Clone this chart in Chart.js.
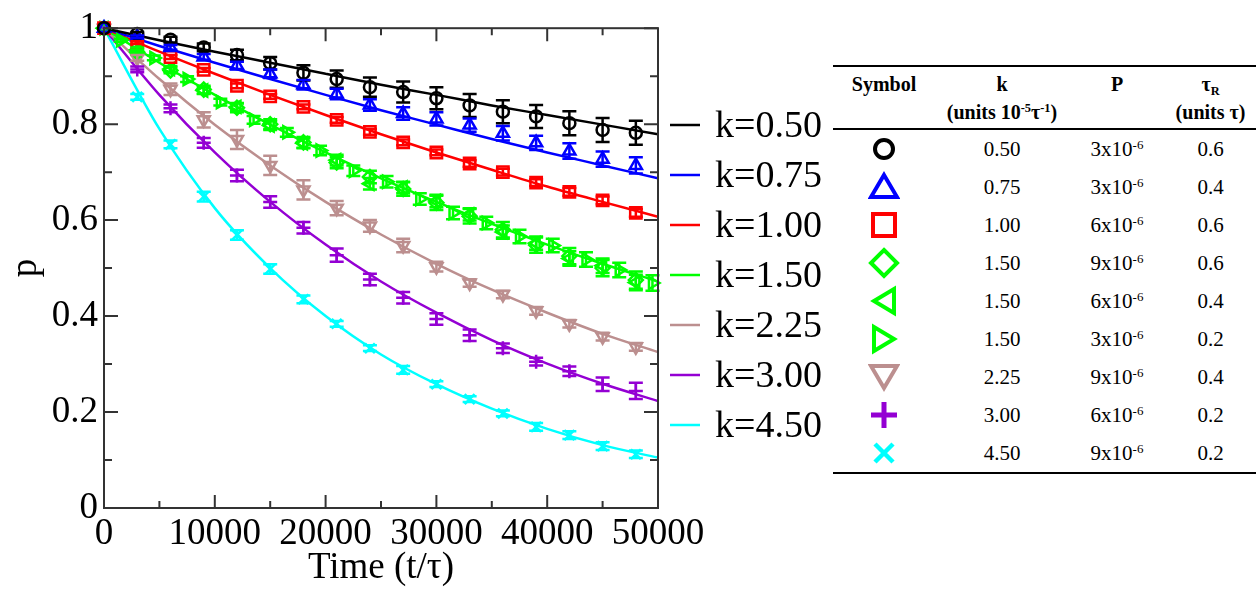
<!DOCTYPE html>
<html>
<head>
<meta charset="utf-8">
<script src="https://cdn.jsdelivr.net/npm/chart.js@4.4.1/dist/chart.umd.min.js"></script>
<style>
  html, body { margin: 0; padding: 0; background: #fff; }
  body { width: 1256px; height: 590px; position: relative; overflow: hidden;
         font-family: "Liberation Serif", "Times New Roman", serif; color: #000; }
  #plot { position: absolute; left: 0; top: 0; }
  #params { position: absolute; left: 833px; top: 65px; width: 423px;
            border-collapse: collapse; table-layout: fixed; }
  #params thead tr { border-top: 2px solid #000; border-bottom: 2px solid #000; }
  #params tbody tr:last-child { border-bottom: 2px solid #000; }
  #params th { font-weight: bold; font-size: 20px; line-height: 28px; height: 58px;
               padding: 3px 0 0 0; vertical-align: top; text-align: center; }
  #params td { font-size: 21px; height: 38px; padding: 0; text-align: center; vertical-align: middle; }
  sup { font-size: 0.62em; vertical-align: 0.55em; line-height: 0; }
  sub { font-size: 0.62em; vertical-align: -0.3em; line-height: 0; }
  td svg { display: block; margin: 0 auto; }
</style>
</head>
<body>
<canvas id="plot" width="830" height="590"></canvas>
<table id="params">
  <colgroup><col style="width:102px"><col style="width:134px"><col style="width:96px"><col style="width:91px"></colgroup>
  <thead>
    <tr>
      <th>Symbol</th>
      <th>k<br>(units 10<sup>-5</sup>τ<sup>-1</sup>)</th>
      <th>P</th>
      <th>τ<sub>R</sub><br>(units τ)</th>
    </tr>
  </thead>
  <tbody id="paramRows"></tbody>
</table>
<script>
// sample times
const markerTimes = [0, 3000, 6000, 9000, 12000, 15000, 18000, 21000, 24000,
                     27000, 30000, 33000, 36000, 39000, 42000, 45000, 48000];
const shiftedTimes = [0, 1500, 4500, 7500, 10500, 13500, 16500, 19500, 22500,
                      25500, 28500, 31500, 34500, 37500, 40500, 43500, 46500, 49500];
const fitTimes = [0, 5000, 10000, 15000, 20000, 25000, 30000, 35000, 40000, 45000, 50000];

// fitted curves, one per k
const fitK050 = [1, 0.975, 0.951, 0.928, 0.905, 0.882, 0.861, 0.839, 0.819, 0.799, 0.779];
const fitK075 = [1, 0.963, 0.928, 0.894, 0.861, 0.829, 0.799, 0.769, 0.741, 0.714, 0.687];
const fitK100 = [1, 0.951, 0.905, 0.861, 0.819, 0.779, 0.741, 0.705, 0.670, 0.638, 0.607];
const fitK150 = [1, 0.928, 0.861, 0.799, 0.741, 0.687, 0.638, 0.592, 0.549, 0.509, 0.472];
const fitK225 = [1, 0.894, 0.799, 0.714, 0.638, 0.570, 0.509, 0.455, 0.407, 0.363, 0.325];
const fitK300 = [1, 0.861, 0.741, 0.638, 0.549, 0.472, 0.407, 0.350, 0.301, 0.259, 0.223];
const fitK450 = [1, 0.790, 0.625, 0.500, 0.400, 0.320, 0.258, 0.207, 0.165, 0.131, 0.105];

// simulation points and their error bars
const pCircle   = [1, 0.988, 0.976, 0.960, 0.944, 0.927, 0.907, 0.894, 0.877, 0.867, 0.854, 0.839, 0.826, 0.816, 0.802, 0.788, 0.782];
const errCircle = [0, 0.004, 0.006, 0.008, 0.011, 0.013, 0.016, 0.018, 0.020, 0.022, 0.023, 0.024, 0.024, 0.024, 0.025, 0.025, 0.025];
const pTriUp    = [1, 0.982, 0.960, 0.940, 0.922, 0.905, 0.882, 0.863, 0.840, 0.822, 0.811, 0.798, 0.781, 0.761, 0.744, 0.727, 0.714];
const errTriUp  = [0, 0.003, 0.005, 0.006, 0.008, 0.009, 0.010, 0.011, 0.012, 0.013, 0.014, 0.014, 0.015, 0.015, 0.016, 0.016, 0.017];
const pSquare   = [1, 0.970, 0.940, 0.913, 0.880, 0.858, 0.836, 0.809, 0.784, 0.762, 0.741, 0.718, 0.700, 0.678, 0.659, 0.641, 0.615];
const errSquare = [0, 0.003, 0.004, 0.004, 0.005, 0.005, 0.005, 0.006, 0.006, 0.006, 0.006, 0.007, 0.007, 0.007, 0.008, 0.008, 0.008];
const pDiamond  = [1, 0.950, 0.912, 0.872, 0.834, 0.800, 0.762, 0.720, 0.690, 0.665, 0.636, 0.608, 0.580, 0.548, 0.525, 0.500, 0.475];
const errDiamond= [0, 0.005, 0.006, 0.008, 0.009, 0.010, 0.011, 0.012, 0.013, 0.014, 0.015, 0.015, 0.016, 0.016, 0.017, 0.017, 0.018];
const pTriLeft  = [1, 0.955, 0.915, 0.870, 0.836, 0.797, 0.760, 0.725, 0.676, 0.668, 0.640, 0.612, 0.575, 0.552, 0.520, 0.505, 0.470];
const errTriLeft= [0, 0.005, 0.006, 0.007, 0.008, 0.009, 0.010, 0.011, 0.012, 0.012, 0.013, 0.013, 0.014, 0.014, 0.015, 0.015, 0.016];
const pTriRight = [1, 0.975, 0.938, 0.894, 0.846, 0.809, 0.783, 0.745, 0.703, 0.680, 0.644, 0.615, 0.594, 0.566, 0.547, 0.518, 0.496, 0.469];
const errTriRight=[0, 0.003, 0.005, 0.006, 0.007, 0.008, 0.009, 0.010, 0.011, 0.012, 0.012, 0.013, 0.013, 0.014, 0.014, 0.015, 0.015, 0.016];
const pTriDown  = [1, 0.938, 0.873, 0.809, 0.768, 0.714, 0.663, 0.625, 0.588, 0.547, 0.503, 0.469, 0.445, 0.411, 0.384, 0.357, 0.336];
const errTriDown= [0, 0.006, 0.012, 0.016, 0.020, 0.020, 0.020, 0.015, 0.012, 0.014, 0.010, 0.008, 0.008, 0.008, 0.008, 0.008, 0.008];
const pPlus     = [1, 0.914, 0.833, 0.761, 0.693, 0.638, 0.584, 0.527, 0.476, 0.438, 0.394, 0.360, 0.333, 0.305, 0.285, 0.258, 0.244];
const errPlus   = [0, 0.006, 0.008, 0.010, 0.012, 0.012, 0.012, 0.014, 0.012, 0.012, 0.012, 0.012, 0.010, 0.008, 0.010, 0.014, 0.017];
const pCross    = [1, 0.857, 0.758, 0.649, 0.569, 0.498, 0.435, 0.384, 0.333, 0.288, 0.258, 0.227, 0.197, 0.169, 0.152, 0.129, 0.112];
const errCross  = [0, 0.006, 0.008, 0.010, 0.010, 0.010, 0.008, 0.006, 0.006, 0.008, 0.006, 0.006, 0.006, 0.008, 0.008, 0.008, 0.008];

// table on the right
const tableK = ['0.50', '0.75', '1.00', '1.50', '1.50', '1.50', '2.25', '3.00', '4.50'];
const tableP = [3, 3, 6, 9, 6, 3, 9, 6, 9];
const tableTauR = ['0.6', '0.4', '0.6', '0.6', '0.4', '0.2', '0.4', '0.2', '0.2'];

const BLACK = '#000000', BLUE = '#0000ff', RED = '#ff0000', GREEN = '#00ff00',
      BROWN = '#bc8f8f', VIOLET = '#9400d3', CYAN = '#00ffff';
const SERIF = '"Liberation Serif", "Times New Roman", serif';

const fitSeries = [
  { label: 'k=0.50', values: fitK050, color: BLACK },
  { label: 'k=0.75', values: fitK075, color: BLUE },
  { label: 'k=1.00', values: fitK100, color: RED },
  { label: 'k=1.50', values: fitK150, color: GREEN },
  { label: 'k=2.25', values: fitK225, color: BROWN },
  { label: 'k=3.00', values: fitK300, color: VIOLET },
  { label: 'k=4.50', values: fitK450, color: CYAN }
];

const markerSeries = [
  { times: markerTimes, values: pCircle, errors: errCircle, color: BLACK, shape: 'circle', rot: 0, r: 6, sym: 'circle' },
  { times: markerTimes, values: pTriUp, errors: errTriUp, color: BLUE, shape: 'triangle', rot: 0, r: 7, sym: 'up' },
  { times: markerTimes, values: pSquare, errors: errSquare, color: RED, shape: 'rect', rot: 0, r: 8, sym: 'square' },
  { times: markerTimes, values: pDiamond, errors: errDiamond, color: GREEN, shape: 'rectRot', rot: 0, r: 7, sym: 'diamond' },
  { times: markerTimes, values: pTriLeft, errors: errTriLeft, color: GREEN, shape: 'triangle', rot: -90, r: 7, sym: 'left' },
  { times: shiftedTimes, values: pTriRight, errors: errTriRight, color: GREEN, shape: 'triangle', rot: 90, r: 7, sym: 'right' },
  { times: markerTimes, values: pTriDown, errors: errTriDown, color: BROWN, shape: 'triangle', rot: 180, r: 7, sym: 'down' },
  { times: markerTimes, values: pPlus, errors: errPlus, color: VIOLET, shape: 'cross', rot: 0, r: 7, sym: 'plus' },
  { times: markerTimes, values: pCross, errors: errCross, color: CYAN, shape: 'crossRot', rot: 0, r: 7, sym: 'x' }
];

const datasets = [];
markerSeries.forEach(s => {
  datasets.push({
    data: s.times.map((t, i) => ({ x: t, y: s.values[i] })),
    errors: s.errors,
    showLine: false,
    pointStyle: s.shape,
    rotation: s.rot,
    pointRadius: s.r,
    pointBorderWidth: 2.5,
    borderColor: s.color,
    backgroundColor: 'rgba(0,0,0,0)',
    clip: false,
    order: 0
  });
});
fitSeries.forEach(s => {
  datasets.push({
    label: s.label,
    data: fitTimes.map((t, i) => ({ x: t, y: s.values[i] })),
    showLine: true,
    pointRadius: 0,
    borderWidth: 2.5,
    borderColor: s.color,
    backgroundColor: s.color,
    cubicInterpolationMode: 'monotone',
    order: 1
  });
});

// vertical error bars with caps
const errorBars = {
  id: 'errorBars',
  afterDatasetsDraw(chart) {
    const ctx = chart.ctx;
    const yScale = chart.scales.y;
    ctx.save();
    ctx.lineWidth = 2.5;
    chart.data.datasets.forEach((ds, di) => {
      if (!ds.errors) return;
      const meta = chart.getDatasetMeta(di);
      ctx.strokeStyle = ds.borderColor;
      meta.data.forEach((pt, i) => {
        const e = ds.errors[i];
        if (!e) return;
        const v = ds.data[i].y;
        const yTop = yScale.getPixelForValue(v + e);
        const yBot = yScale.getPixelForValue(v - e);
        ctx.beginPath();
        ctx.moveTo(pt.x, yTop); ctx.lineTo(pt.x, yBot);
        ctx.moveTo(pt.x - 7, yTop); ctx.lineTo(pt.x + 7, yTop);
        ctx.moveTo(pt.x - 7, yBot); ctx.lineTo(pt.x + 7, yBot);
        ctx.stroke();
      });
    });
    ctx.restore();
  }
};

// box frame with inward major/minor ticks on all four sides
const frameTicks = {
  id: 'frameTicks',
  afterDatasetsDraw(chart) {
    const { ctx, chartArea: a } = chart;
    const xs = chart.scales.x, ys = chart.scales.y;
    ctx.save();
    ctx.strokeStyle = '#333';
    ctx.lineWidth = 2;
    ctx.strokeRect(a.left, a.top, a.right - a.left, a.bottom - a.top);
    ctx.beginPath();
    const withMinor = vals => {
      const out = [];
      vals.forEach((v, i) => {
        out.push([v, true]);
        if (i < vals.length - 1) out.push([(v + vals[i + 1]) / 2, false]);
      });
      return out;
    };
    withMinor(xs.ticks.map(t => t.value)).forEach(([v, major]) => {
      const px = xs.getPixelForValue(v), len = major ? 13 : 7;
      ctx.moveTo(px, a.bottom); ctx.lineTo(px, a.bottom - len);
      ctx.moveTo(px, a.top); ctx.lineTo(px, a.top + len);
    });
    withMinor(ys.ticks.map(t => t.value)).forEach(([v, major]) => {
      const py = ys.getPixelForValue(v), len = major ? 14 : 8;
      ctx.moveTo(a.left, py); ctx.lineTo(a.left + len, py);
      ctx.moveTo(a.right, py); ctx.lineTo(a.right - len, py);
    });
    ctx.stroke();
    ctx.restore();
  }
};

// legend to the right of the plot box
const sideLegend = {
  id: 'sideLegend',
  afterDraw(chart) {
    const { ctx, chartArea: a } = chart;
    const lines = chart.data.datasets.filter(ds => ds.showLine);
    ctx.save();
    ctx.font = '38px ' + SERIF;
    ctx.textBaseline = 'middle';
    ctx.textAlign = 'left';
    lines.forEach((ds, i) => {
      const y = 125 + i * 50;
      ctx.strokeStyle = ds.borderColor;
      ctx.lineWidth = 2.5;
      ctx.beginPath();
      ctx.moveTo(a.right + 12, y); ctx.lineTo(a.right + 42, y);
      ctx.stroke();
      ctx.fillStyle = '#000';
      ctx.fillText(ds.label, a.right + 57, y + 2);
    });
    ctx.restore();
  }
};

new Chart(document.getElementById('plot'), {
  type: 'scatter',
  data: { datasets },
  options: {
    responsive: false,
    animation: false,
    devicePixelRatio: 1,
    layout: { padding: { top: 18, right: 172, left: 0, bottom: 0 } },
    plugins: { legend: { display: false }, tooltip: { enabled: false } },
    scales: {
      x: {
        type: 'linear', min: 0, max: 50000,
        grid: { display: false, drawTicks: false, tickLength: 0 },
        border: { display: false },
        ticks: { stepSize: 10000, autoSkip: false, maxRotation: 0, padding: 4,
                 color: '#000', font: { family: SERIF, size: 37 },
                 callback: v => String(v) },
        title: { display: true, text: 'Time (t/τ)', color: '#000',
                 font: { family: SERIF, size: 37 }, padding: { top: 0, bottom: 0 } },
        afterFit: s => { s.height = 82; }
      },
      y: {
        type: 'linear', min: 0, max: 1,
        grid: { display: false, drawTicks: false, tickLength: 0 },
        border: { display: false },
        ticks: { stepSize: 0.2, autoSkip: false, padding: 6,
                 color: '#000', font: { family: SERIF, size: 37 },
                 callback: v => String(Math.round(v * 10) / 10) },
        title: { display: true, text: 'p', color: '#000',
                 font: { family: SERIF, size: 37 }, padding: { top: 4, bottom: 0 } },
        afterFit: s => { s.width = 104; }
      }
    }
  },
  plugins: [errorBars, frameTicks, sideLegend]
});

// parameter table
const symbolSvg = {
  circle: c => `<circle cx="16" cy="16" r="9" fill="none" stroke="${c}" stroke-width="4"/>`,
  up: c => `<polygon points="16,4 29,26 3,26" fill="none" stroke="${c}" stroke-width="4"/>`,
  square: c => `<rect x="5" y="5" width="22" height="22" fill="none" stroke="${c}" stroke-width="4"/>`,
  diamond: c => `<polygon points="16,3 29,16 16,29 3,16" fill="none" stroke="${c}" stroke-width="4"/>`,
  left: c => `<polygon points="6,16 26,4 26,28" fill="none" stroke="${c}" stroke-width="4"/>`,
  right: c => `<polygon points="26,16 6,4 6,28" fill="none" stroke="${c}" stroke-width="4"/>`,
  down: c => `<polygon points="3,5 29,5 16,27" fill="none" stroke="${c}" stroke-width="4"/>`,
  plus: c => `<path d="M16,3 V29 M3,16 H29" stroke="${c}" stroke-width="5"/>`,
  x: c => `<path d="M7,7 L25,25 M25,7 L7,25" stroke="${c}" stroke-width="4.5"/>`
};
const rows = document.getElementById('paramRows');
markerSeries.forEach((s, i) => {
  const tr = document.createElement('tr');
  tr.innerHTML =
    `<td><svg width="32" height="32" viewBox="0 0 32 32">${symbolSvg[s.sym](s.color)}</svg></td>` +
    `<td>${tableK[i]}</td>` +
    `<td>${tableP[i]}x10<sup>-6</sup></td>` +
    `<td>${tableTauR[i]}</td>`;
  rows.appendChild(tr);
});
</script>
</body>
</html>
